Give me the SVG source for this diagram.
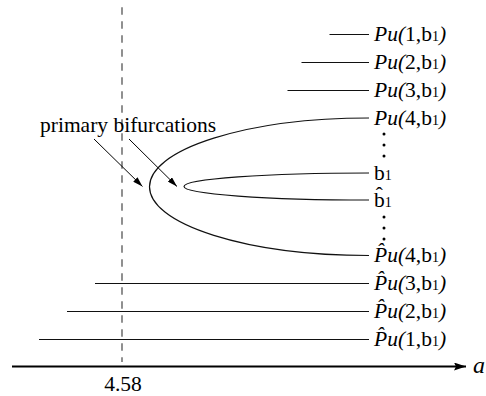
<svg xmlns="http://www.w3.org/2000/svg" width="486" height="396" viewBox="0 0 486 396">
<style>
.t{font-family:"Liberation Serif","Times New Roman",serif;font-size:21.5px;fill:#000}
.i{font-style:italic}
.s{font-size:14px}
.br{fill:none;stroke:#111;stroke-width:1.2}
.dot{fill:#000}
</style>
<defs>
<marker id="ah" viewBox="0 0 10 6" refX="10" refY="3" markerWidth="10" markerHeight="6" markerUnits="userSpaceOnUse" orient="auto">
<path d="M0,0 L10,3 L0,6 Z" fill="#000"/>
</marker>
<marker id="axh" viewBox="0 0 12 8" refX="12" refY="4" markerWidth="12" markerHeight="8" markerUnits="userSpaceOnUse" orient="auto">
<path d="M0,0 L12,4 L0,8 L2,4 Z" fill="#000"/>
</marker>
</defs>

<g id="ref-line">
<line x1="122" y1="7.3" x2="122" y2="362" stroke="#555" stroke-width="1.3" stroke-dasharray="7.5 6.5"/>
<text class="t" x="123" y="391" text-anchor="middle">4.58</text>
</g>

<g id="axis">
<line x1="12" y1="366.5" x2="466" y2="366.5" stroke="#000" stroke-width="1.8" marker-end="url(#axh)"/>
<text class="t i" x="473" y="373" style="font-size:24px">a</text>
</g>

<g id="Pu1">
<line class="br" x1="329.5" y1="34.5" x2="369" y2="34.5"/>
<text class="t" x="374" y="41"><tspan class="i">Pu(</tspan>1,b<tspan class="s">1</tspan><tspan class="i">)</tspan></text>
</g>
<g id="Pu2">
<line class="br" x1="301.5" y1="62.5" x2="369" y2="62.5"/>
<text class="t" x="374" y="69"><tspan class="i">Pu(</tspan>2,b<tspan class="s">1</tspan><tspan class="i">)</tspan></text>
</g>
<g id="Pu3">
<line class="br" x1="287.5" y1="90.5" x2="369" y2="90.5"/>
<text class="t" x="374" y="97"><tspan class="i">Pu(</tspan>3,b<tspan class="s">1</tspan><tspan class="i">)</tspan></text>
</g>
<g id="Pu4-branch">
<path class="br" d="M369,118 A219.5,68.75 0 0 0 369,255.5"/>
<text class="t" x="374" y="124.5"><tspan class="i">Pu(</tspan>4,b<tspan class="s">1</tspan><tspan class="i">)</tspan></text>
<text class="t" x="374" y="262"><tspan class="i">P̂u(</tspan>4,b<tspan class="s">1</tspan><tspan class="i">)</tspan></text>
</g>
<g id="b1-branch">
<path class="br" d="M369,173 A185,13.5 0 0 0 369,200"/>
<text class="t" x="374" y="179.5">b<tspan class="s">1</tspan></text>
<text class="t" x="374" y="207">b̂<tspan class="s">1</tspan></text>
</g>
<g id="dots">
<circle class="dot" cx="384" cy="134" r="1.5"/>
<circle class="dot" cx="384" cy="145" r="1.5"/>
<circle class="dot" cx="384" cy="156" r="1.5"/>
<circle class="dot" cx="384" cy="217" r="1.5"/>
<circle class="dot" cx="384" cy="228" r="1.5"/>
<circle class="dot" cx="384" cy="239" r="1.5"/>
</g>
<g id="hPu3">
<line class="br" x1="95" y1="283.5" x2="369" y2="283.5"/>
<text class="t" x="374" y="290"><tspan class="i">P̂u(</tspan>3,b<tspan class="s">1</tspan><tspan class="i">)</tspan></text>
</g>
<g id="hPu2">
<line class="br" x1="67" y1="311.5" x2="369" y2="311.5"/>
<text class="t" x="374" y="318"><tspan class="i">P̂u(</tspan>2,b<tspan class="s">1</tspan><tspan class="i">)</tspan></text>
</g>
<g id="hPu1">
<line class="br" x1="39" y1="339.5" x2="369" y2="339.5"/>
<text class="t" x="374" y="346"><tspan class="i">P̂u(</tspan>1,b<tspan class="s">1</tspan><tspan class="i">)</tspan></text>
</g>

<g id="label-primary">
<text class="t" x="40" y="132">primary bifurcations</text>
</g>

<g id="connectors">
<line x1="94" y1="139" x2="142.5" y2="186.5" stroke="#000" stroke-width="1" marker-end="url(#ah)"/>
<line x1="129" y1="139" x2="177" y2="186.5" stroke="#000" stroke-width="1" marker-end="url(#ah)"/>
</g>
</svg>
